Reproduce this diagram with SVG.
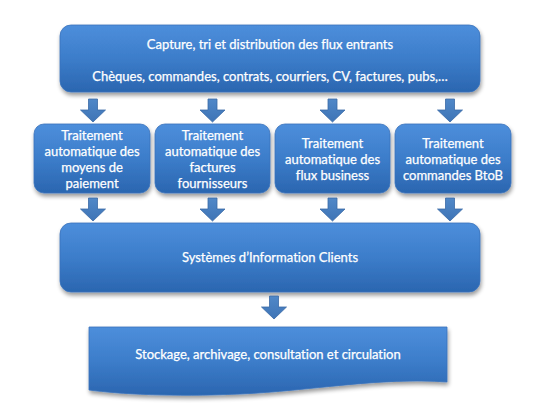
<svg xmlns="http://www.w3.org/2000/svg" width="550" height="413" viewBox="0 0 550 413">
  <defs>
    <linearGradient id="blue" x1="0" y1="0" x2="0" y2="1">
      <stop offset="0" stop-color="#4d8edb"/>
      <stop offset="0.5" stop-color="#3c7dca"/>
      <stop offset="1" stop-color="#2b66b0"/>
    </linearGradient>
    <linearGradient id="arrowfill" x1="0" y1="0" x2="0" y2="1">
      <stop offset="0" stop-color="#5088c8"/>
      <stop offset="1" stop-color="#3e74b6"/>
    </linearGradient>
    <filter id="shadow" x="-10%" y="-10%" width="120%" height="140%">
      <feGaussianBlur in="SourceAlpha" stdDeviation="2"/>
      <feOffset dx="1" dy="3" result="b"/>
      <feComponentTransfer><feFuncA type="linear" slope="0.4"/></feComponentTransfer>
      <feMerge><feMergeNode/><feMergeNode in="SourceGraphic"/></feMerge>
    </filter>
    <path id="arr" d="M-4.5,0 L4.5,0 L4.5,11 L12.5,11 L0,23 L-12.5,11 L-4.5,11 Z"/>
  </defs>
  <style>
    .box { fill: url(#blue); stroke: #3a72bb; stroke-width: 0.8; filter: url(#shadow); }
    .arrow { fill: url(#arrowfill); stroke: #3a6aa6; stroke-width: 0.8; }
    .t { font-family: Lato, "Open Sans", "Liberation Sans", sans-serif; font-size: 13px; fill: #ffffff; stroke: #ffffff; stroke-width: 0.25; text-anchor: middle; font-variant-ligatures: none; }
  </style>

  <g id="capture">
    <rect class="box" x="60" y="25" width="420" height="67" rx="11"/>
    <text class="t" x="270" y="48.5">Capture, tri et distribution des flux entrants</text>
    <text class="t" x="270" y="80.5">Chèques, commandes, contrats, courriers, CV, factures, pubs,…</text>
  </g>

  <g id="paiement">
    <rect class="box" x="34" y="124" width="116" height="69" rx="10"/>
    <text class="t" x="92" y="139.5">Traitement</text>
    <text class="t" x="92" y="155.5">automatique des</text>
    <text class="t" x="92" y="171.5">moyens de</text>
    <text class="t" x="92" y="187.5">paiement</text>
  </g>

  <g id="factures">
    <rect class="box" x="155" y="124" width="115" height="69" rx="10"/>
    <text class="t" x="212.5" y="139.5">Traitement</text>
    <text class="t" x="212.5" y="155.5">automatique des</text>
    <text class="t" x="212.5" y="171.5">factures</text>
    <text class="t" x="212.5" y="187.5">fournisseurs</text>
  </g>

  <g id="business">
    <rect class="box" x="275" y="124" width="115" height="69" rx="10"/>
    <text class="t" x="332.5" y="147.5">Traitement</text>
    <text class="t" x="332.5" y="163.5">automatique des</text>
    <text class="t" x="332.5" y="179.5">flux business</text>
  </g>

  <g id="btob">
    <rect class="box" x="395" y="124" width="116" height="69" rx="10"/>
    <text class="t" x="453" y="147.5">Traitement</text>
    <text class="t" x="453" y="163.5">automatique des</text>
    <text class="t" x="453" y="179.5">commandes BtoB</text>
  </g>

  <g id="sic">
    <rect class="box" x="60" y="223" width="420" height="69" rx="11"/>
    <text class="t" x="270" y="262">Systèmes d’Information Clients</text>
  </g>

  <g id="stockage">
    <path class="box" d="M89,327 L447,327 L447,382 C380,377 310,391 240,394 C170,397 120,394 89,390 Z"/>
    <text class="t" x="268" y="359">Stockage, archivage, consultation et circulation</text>
  </g>

  <g id="connectors">
    <use class="arrow" href="#arr" x="93" y="99"/>
    <use class="arrow" href="#arr" x="212.5" y="99"/>
    <use class="arrow" href="#arr" x="332.5" y="99"/>
    <use class="arrow" href="#arr" x="450" y="99"/>
    <use class="arrow" href="#arr" x="93" y="198"/>
    <use class="arrow" href="#arr" x="212.5" y="198"/>
    <use class="arrow" href="#arr" x="332.5" y="198"/>
    <use class="arrow" href="#arr" x="450" y="198"/>
    <use class="arrow" href="#arr" x="274" y="296"/>
  </g>
</svg>
